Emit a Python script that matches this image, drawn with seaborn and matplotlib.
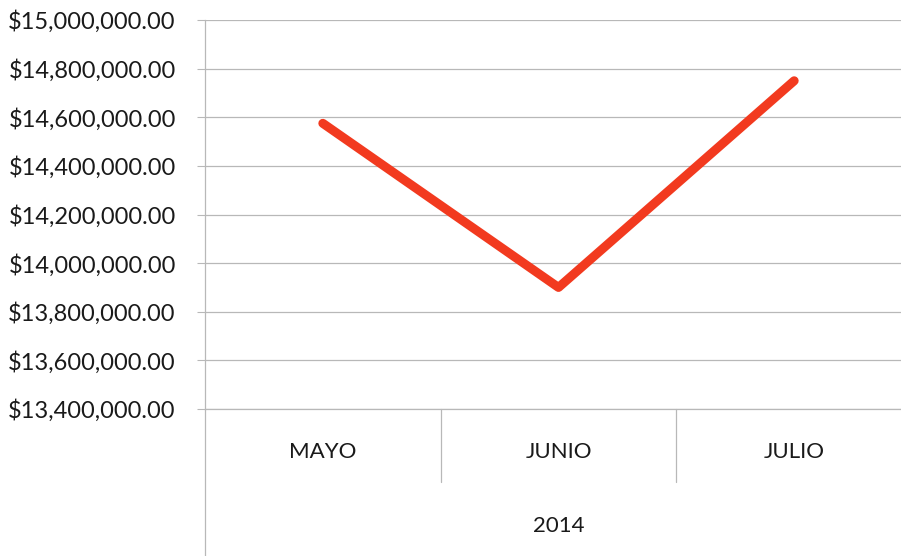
import matplotlib
matplotlib.use('Agg')
import matplotlib.pyplot as plt
import matplotlib.ticker as mticker
from matplotlib.lines import Line2D
import seaborn as sns
import pandas as pd

# ── Datos ──────────────────────────────────────────────
meses = ["MAYO", "JUNIO", "JULIO"]
ventas = [14575000, 13900000, 14750000]
anio = "2014"
yticks = [13400000, 13600000, 13800000, 14000000, 14200000,
          14400000, 14600000, 14800000, 15000000]

df = pd.DataFrame({"mes": meses, "ventas": ventas})

sns.set_style("white")
plt.rcParams['font.family'] = ['Lato', 'DejaVu Sans']

fig = plt.figure(figsize=(9.01, 5.56), dpi=100)
ax = fig.add_axes([205 / 901, 1 - 409 / 556, 707 / 901, 389 / 556])

sns.lineplot(data=df, x="mes", y="ventas", sort=False, ax=ax,
             color="#f23a1f", linewidth=6.5, solid_capstyle="round")

ax.set_xlim(-0.5, 2.5)
ax.set_ylim(yticks[0], yticks[-1])
ax.set_yticks(yticks)
ax.yaxis.set_major_formatter(mticker.StrMethodFormatter("${x:,.2f}"))
ax.grid(axis="y", color="#b8b8b8", linewidth=0.9)
ax.grid(axis="x", visible=False)
ax.tick_params(axis="y", length=6, width=0.8, color="#b8b8b8", pad=15,
               labelsize=17, labelcolor="#1a1a1a", left=True)
ax.tick_params(axis="x", length=0, pad=24, labelsize=16, labelcolor="#1a1a1a")
ax.set_xlabel("")
ax.set_ylabel("")
for s in ["top", "right"]:
    ax.spines[s].set_visible(False)
for s in ["left", "bottom"]:
    ax.spines[s].set_color("#b8b8b8")
    ax.spines[s].set_linewidth(0.9)

# divisiones entre categorías
trans = ax.get_xaxis_transform()
for xb in [0.5, 1.5]:
    ax.plot([xb, xb], [0, -0.188], transform=trans, color="#b8b8b8",
            linewidth=0.9, clip_on=False)

# eje izquierdo prolongado hasta el borde
fig.add_artist(Line2D([205 / 901, 205 / 901], [0, 1 - 409 / 556],
                      color="#b8b8b8", linewidth=0.9))

ax.text(1, -0.3, anio, transform=trans, ha="center", va="center",
        fontsize=16, color="#1a1a1a")

fig.savefig("out.png", dpi=100, facecolor="white")
